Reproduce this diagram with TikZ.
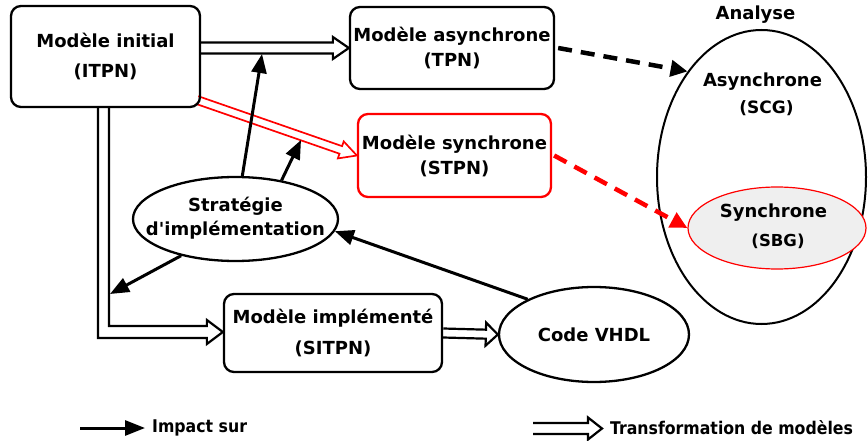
\documentclass[tikz,border=0pt]{standalone}
\usepackage{fontspec}
\setmainfont{DejaVu Sans}
\newfontfamily\condfont{DejaVu Sans Condensed}
\usetikzlibrary{arrows.meta,calc,shapes.geometric}
\definecolor{sbggray}{HTML}{EFEFEF}
\pgfdeclarelayer{bg}
\pgfsetlayers{bg,main}
% hollow (outlined) arrow: [opts]{from}{to}{half shaft}{half head}{head length}
\newcommand\harrow[6][]{%
  \coordinate (hA) at (#2);
  \coordinate (hB) at (#3);
  \coordinate (hH) at ($(hB)!#6!(hA)$);
  \draw[hollow,#1] ($(hA)!#4!90:(hB)$) -- ($(hH)!#4!90:(hB)$) -- ($(hH)!#5!90:(hB)$)
    -- (hB) -- ($(hH)!#5!-90:(hB)$) -- ($(hH)!#4!-90:(hB)$) -- ($(hA)!#4!-90:(hB)$);
}
\begin{document}
\begin{tikzpicture}[x=1pt,y=-1pt,
  box/.style={draw, line width=2.3pt, rounded corners=10pt, align=center, inner sep=0pt},
  ell/.style={draw, ellipse, line width=2.3pt, inner sep=0pt},
  lbl/.style={font=\fontsize{18}{21}\selectfont\bfseries, inner sep=0pt},
  leg/.style={font=\fontsize{17.5}{21}\selectfont\condfont\bfseries, inner sep=0pt, anchor=west},
  hollow/.style={draw=black, line width=2.2pt, fill=white, line join=miter},
  impact/.style={line width=3pt, -{Triangle[length=19pt,width=15pt]}},
  dsh/.style={line width=4.5pt, dash pattern=on 14pt off 9pt, -{Triangle[length=17pt,width=16pt]}},
]
\useasboundingbox (0,0) rectangle (868,441);

% boxes
\node[box, minimum width=189pt, minimum height=101pt, font=\fontsize{18}{30}\selectfont\bfseries]
  (init) at (105.5,56.5) {Modèle initial\\(ITPN)};
\node[box, minimum width=204pt, minimum height=82pt, font=\fontsize{18}{25}\selectfont\bfseries]
  (async) at (452,48) {Modèle asynchrone\\(TPN)};
\node[box, draw=red, minimum width=193pt, minimum height=83pt, font=\fontsize{18}{25}\selectfont\bfseries]
  (sync) at (454.5,155.5) {Modèle synchrone\\(STPN)};
\node[box, minimum width=218pt, minimum height=78pt, font=\fontsize{18}{31}\selectfont\bfseries]
  (impl) at (333,333) {Modèle implémenté\\(SITPN)};

% ellipses
\node[ell, minimum width=205pt, minimum height=84pt] (strat) at (235.5,219) {};
\node[lbl, align=center, font=\fontsize{18}{24}\selectfont\bfseries] (stratT) at (235.5,218.5)
  {Stratégie\\d\textquotesingle implémentation};
\node[ell, minimum width=190pt, minimum height=95pt] (vhdl) at (594,334.5) {};
\node[lbl] (vhdlT) at (594,335) {Code VHDL};

\node[ell, line width=2pt, minimum width=209pt, minimum height=294pt] (analyse) at (761.5,177) {};
\node[lbl, anchor=base] (analyseT) at (755.5,20) {Analyse};
\node[lbl, anchor=base] (asyT) at (762.5,87) {Asynchrone};
\node[lbl, anchor=base, font=\fontsize{17}{20}\selectfont\bfseries] (scgT) at (766.5,114) {(SCG)};
\node[ell, draw=red, line width=1.2pt, fill=sbggray, minimum width=178pt, minimum height=82pt] (synch) at (777,228) {};
\node[lbl, anchor=base] (synT) at (773.5,217) {Synchrone};
\node[lbl, anchor=base, font=\fontsize{16.5}{20}\selectfont\bfseries] (sbgT) at (778,247) {(SBG)};

% hollow transformation arrows
\coordinate (rs) at (197,100);
\coordinate (iS) at ($(init.south)+(-2,0)$);
\coordinate (iT) at ($(impl.west)+(0,-1)$);
\begin{pgfonlayer}{bg}
\harrow{init.east |- async.west}{async.west}{5.5pt}{11pt}{16pt}
\harrow[draw=red, line width=1.7pt]{rs}{sync.west}{4pt}{9pt}{17pt}
\harrow{impl.east}{vhdl.west}{4.5pt}{11.5pt}{12pt}
\draw[hollow] ($(iS)+(5.5,0)$) -- ($(iS |- iT)+(5.5,-6)$) -- ($(iT)+(-16,-6)$) -- ($(iT)+(-16,-12)$)
  -- (iT) -- ($(iT)+(-16,12)$) -- ($(iT)+(-16,6)$) -- ($(iS |- iT)+(-5.5,6)$) -- ($(iS)+(-5.5,0)$);
\end{pgfonlayer}

% impact arrows
\coordinate (t1) at (262,54);
\coordinate (t2) at (301,140);
\coordinate (t3) at (110,294);
\draw[impact] (strat.81) -- (t1);
\draw[impact] (strat.40) -- (t2);
\draw[impact] (strat.214) -- (t3);
\draw[impact] (vhdl.152) -- (strat.-7);

% analysis arrows
\draw[dsh] ($(async.east)+(3,0)$) -- (analyse.125);
\draw[dsh, red] ($(sync.east)+(2,0)$) -- (synch.west);

% legend
\coordinate (l1) at (80,428);
\coordinate (l2) at (145,428);
\draw[impact, -{Triangle[length=20pt,width=15pt]}] (l1) -- (l2);
\node[leg] (impT) at (152,428) {Impact sur};
\coordinate (l3) at (533,428.5);
\coordinate (l4) at (602,428.5);
\harrow{l3}{l4}{5.5pt}{11pt}{14pt}
\node[leg] (trT) at (610,428) {Transformation de modèles};
\end{tikzpicture}
\end{document}
